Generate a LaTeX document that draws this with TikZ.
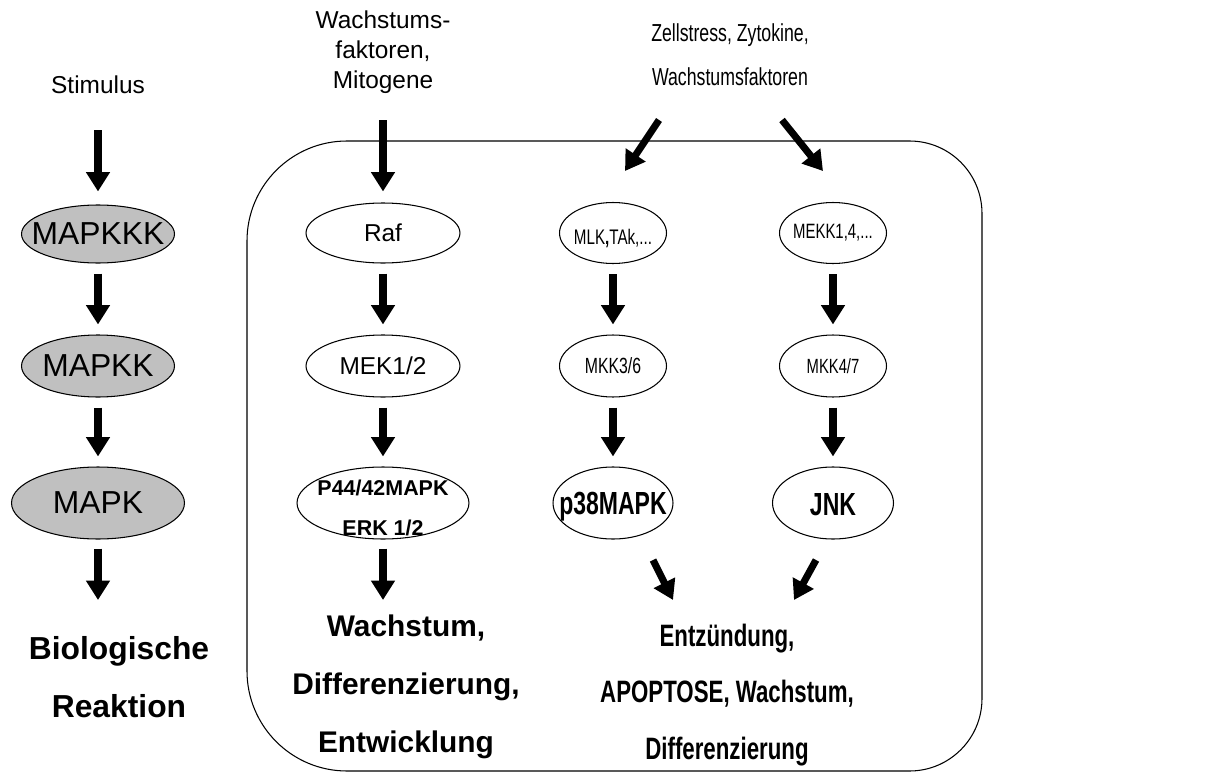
\documentclass[tikz,border=0pt]{standalone}
\usepackage{fontspec}
\setmainfont{Liberation Sans}
\newfontfamily\narrowfont[FakeStretch=0.72]{Liberation Sans}
\usetikzlibrary{shapes.geometric,arrows.meta}
\definecolor{kinase}{RGB}{192,192,192}

\begin{document}
\begin{tikzpicture}[x=0.02cm,y=-0.02cm,
    arr/.style={-{Triangle[length=11pt,width=13pt]},line width=4pt,shorten <=0.2cm,shorten >=0.2cm},
    cell/.style={ellipse,draw,line width=0.6pt,inner sep=0pt},
    lab/.style={align=center,font=\fontsize{13.9}{17}\selectfont},
    res/.style={align=center,font=\bfseries\fontsize{18.1}{33.4}\selectfont}]
  \useasboundingbox (0,0) rectangle (1211,774);

  % cell membrane
  \draw[line width=0.6pt] (600,141) [rounded corners=1.45cm] -| (982,456) |- (600,771)
    [rounded corners=2cm] -| (247,456) |- (600,141);

  % general scheme
  \node[lab] (stim) at (98,85) {Stimulus};
  \node[cell,fill=kinase,minimum width=3.06cm,minimum height=1.16cm,
    label={[font=\fontsize{18.1}{20}\selectfont]center:MAPKKK}] (kkk) at (98,234) {};
  \node[cell,fill=kinase,minimum width=3.06cm,minimum height=1.24cm,
    label={[font=\fontsize{18.1}{20}\selectfont]center:MAPKK}] (kk) at (98,366) {};
  \node[cell,fill=kinase,minimum width=3.46cm,minimum height=1.44cm,
    label={[font=\fontsize{18.1}{20}\selectfont]center:MAPK}] (k) at (98,503) {};
  \node[res] (bio) at (119,677) {Biologische\\Reaktion};

  % ERK pathway
  \node[lab] (wf) at (383,52) {Wachstums-\\faktoren,\\Mitogene};
  \node[cell,minimum width=3.08cm,minimum height=1.2cm,
    label={[font=\fontsize{13.9}{16}\selectfont]center:Raf}] (raf) at (383,233) {};
  \node[cell,minimum width=3.08cm,minimum height=1.24cm,
    label={[font=\fontsize{13.9}{16}\selectfont]center:MEK1/2}] (mek) at (383,366) {};
  \node[cell,minimum width=3.44cm,minimum height=1.44cm,
    label={[yshift=-0.1cm,align=center,font=\bfseries\fontsize{12.2}{22.7}\selectfont]center:P44/42MAPK\\ERK 1/2}] (erk) at (383,503) {};
  \node[res,font=\bfseries\fontsize{17}{33}\selectfont] (gr) at (406,687) {Wachstum,\\Differenzierung,\\Entwicklung};

  % p38 and JNK pathways
  \node[lab,font=\narrowfont\fontsize{14}{25}\selectfont] (zs) at (730,55) {Zellstress, Zytokine,\\Wachstumsfaktoren};
  \node[cell,minimum width=2.14cm,minimum height=1.22cm,
    label={[yshift=-0.1cm,font=\narrowfont\fontsize{12}{14}\selectfont]center:{MLK{\bfseries,}TAk,...}}] (mlk) at (613,233) {};
  \node[cell,minimum width=2.14cm,minimum height=1.22cm,
    label={[font=\narrowfont\fontsize{11.8}{14}\selectfont]center:{MEKK1,4,...}}] (mekk) at (833,233) {};
  \node[cell,minimum width=2.14cm,minimum height=1.24cm,
    label={[font=\narrowfont\fontsize{12.5}{14}\selectfont]center:MKK3/6}] (mkk36) at (613,366) {};
  \node[cell,minimum width=2.14cm,minimum height=1.24cm,
    label={[font=\narrowfont\fontsize{11.7}{14}\selectfont]center:MKK4/7}] (mkk47) at (833,366) {};
  \node[cell,minimum width=2.4cm,minimum height=1.44cm,
    label={[yshift=-0.08cm,font=\narrowfont\bfseries\fontsize{18.2}{20}\selectfont]center:p38MAPK}] (p38) at (613,503) {};
  \node[cell,minimum width=2.42cm,minimum height=1.44cm,
    label={[yshift=-0.04cm,font=\narrowfont\bfseries\fontsize{18.2}{20}\selectfont]center:JNK}] (jnk) at (833,503) {};
  \node[res,font=\narrowfont\bfseries\fontsize{17.6}{32.3}\selectfont] (inf) at (727,695) {Entzündung,\\APOPTOSE, Wachstum,\\Differenzierung};

  % free arrow ends
  \coordinate (stim-out) at (98,130);
  \coordinate (bio-in) at (98,600);
  \coordinate (wf-out) at (383,120);
  \coordinate (gr-in) at (383,600);
  \coordinate (zs-l) at (659,120);
  \coordinate (zs-l-in) at (625,171);
  \coordinate (zs-r) at (782,120);
  \coordinate (zs-r-in) at (823,171);
  \coordinate (p38-out) at (653,560);
  \coordinate (inf-l) at (673,600);
  \coordinate (jnk-out) at (816,560);
  \coordinate (inf-r) at (794,600);

  % arrows
  \draw[arr,shorten <=0pt,shorten >=0.26cm] (stim-out) -- (stim-out |- kkk.north);
  \draw[arr] (kkk) -- (kk);
  \draw[arr] (kk) -- (k);
  \draw[arr,shorten <=0.18cm,shorten >=0pt] (k) -- (bio-in);

  \draw[arr,shorten <=0pt,shorten >=0.22cm] (wf-out) -- (wf-out |- raf.north);
  \draw[arr] (raf) -- (mek);
  \draw[arr] (mek) -- (erk);
  \draw[arr,shorten <=0.18cm,shorten >=0pt] (erk) -- (gr-in);

  \draw[arr,shorten <=0pt,shorten >=0pt] (zs-l) -- (zs-l-in);
  \draw[arr,shorten <=0pt,shorten >=0pt] (zs-r) -- (zs-r-in);
  \draw[arr] (mlk) -- (mkk36);
  \draw[arr] (mkk36) -- (p38);
  \draw[arr] (mekk) -- (mkk47);
  \draw[arr] (mkk47) -- (jnk);
  \draw[arr,shorten <=0pt,shorten >=0pt] (p38-out) -- (inf-l);
  \draw[arr,shorten <=0pt,shorten >=0pt] (jnk-out) -- (inf-r);
\end{tikzpicture}
\end{document}
